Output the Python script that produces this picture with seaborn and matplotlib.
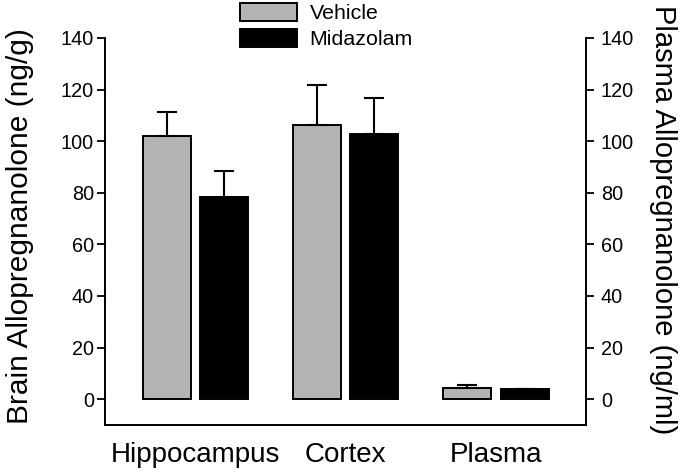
import matplotlib
matplotlib.use('Agg')
import matplotlib.pyplot as plt
import seaborn as sns
import pandas as pd

regions = ['Hippocampus', 'Cortex', 'Plasma']
groups = ['Vehicle', 'Midazolam']
vehicle_mean = [102.0, 106.3, 4.4]
vehicle_sem = [9.5, 15.4, 1.1]
midazolam_mean = [78.2, 102.6, 3.8]
midazolam_sem = [10.4, 14.0, 0.2]
y_ticks = [0, 20, 40, 60, 80, 100, 120, 140]
y_min, y_max = -10, 140

df = pd.DataFrame({
    'region': regions * 2,
    'group': [groups[0]] * 3 + [groups[1]] * 3,
    'value': vehicle_mean + midazolam_mean,
    'sem': vehicle_sem + midazolam_sem,
})
# bars in the original start at the bottom of the axis, not at 0
df['span'] = df['value'] - y_min

sns.set_style('white')
plt.rcParams['font.family'] = ['Liberation Sans', 'DejaVu Sans']
plt.rcParams.update({'text.color': 'black', 'axes.labelcolor': 'black',
                     'xtick.color': 'black', 'ytick.color': 'black'})

fig = plt.figure(figsize=(6.84, 4.73), dpi=100)
ax = fig.add_axes([0.1535, 0.1015, 0.7035, 0.8182])

bar_kws = dict(data=df, x='region', hue='group', order=regions, hue_order=groups,
               palette=['#b3b3b3', '#000000'], width=0.76, gap=0.16, errorbar=None,
               edgecolor='black', linewidth=1.4, ax=ax)
try:
    sns.barplot(y='span', bottom=y_min, **bar_kws)
except Exception:
    ax.cla()
    sns.barplot(y='value', **bar_kws)
bars = [p for p in ax.patches if p.get_width() > 0]

# upper-only error bars, matched to the drawn bars
for patch, (_, row) in zip(bars, df.iterrows()):
    xc = patch.get_x() + patch.get_width() / 2
    ax.errorbar(xc, row['value'], yerr=[[0], [row['sem']]], fmt='none',
                ecolor='black', elinewidth=1.5, capsize=7.2, capthick=1.5)

ax.set_xlim(-0.6, 2.6)
ax.set_ylim(y_min, y_max)
ax.set_yticks(y_ticks)
ax.set_xlabel('')
ax.set_ylabel('')
ax.tick_params(axis='y', direction='out', length=5.5, width=1.3, labelsize=14.3, left=True, pad=2.5)
ax.tick_params(axis='x', length=0, labelsize=20, pad=12)
for s in ['top', 'right']:
    ax.spines[s].set_visible(False)
for s in ['left', 'bottom']:
    ax.spines[s].set_color('black')
    ax.spines[s].set_linewidth(1.4)

ax2 = ax.twinx()
ax2.set_ylim(y_min, y_max)
ax2.set_yticks(y_ticks)
ax2.tick_params(axis='y', direction='out', length=5.5, width=1.3, labelsize=14.3, right=True, pad=5)
for s in ['top', 'left', 'bottom']:
    ax2.spines[s].set_visible(False)
ax2.spines['right'].set_color('black')
ax2.spines['right'].set_linewidth(1.4)

fig.text(20 / 684, 1 - 226 / 473, 'Brain Allopregnanolone (ng/g)', rotation=90,
         ha='center', va='center', fontsize=21.5)
fig.text(663 / 684, 1 - 220 / 473, 'Plasma Allopregnanolone (ng/ml)', rotation=270,
         ha='center', va='center', fontsize=21)

handles, labels = ax.get_legend_handles_labels()
ax.legend(handles, labels, loc='upper left', bbox_to_anchor=(240 / 684, 1 - 3 / 473),
          bbox_transform=fig.transFigure, frameon=False,
          fontsize=15.4, handlelength=2.66, handleheight=0.93, handletextpad=0.6,
          labelspacing=0.25, borderpad=0, borderaxespad=0)

fig.savefig('out.png', dpi=100)
